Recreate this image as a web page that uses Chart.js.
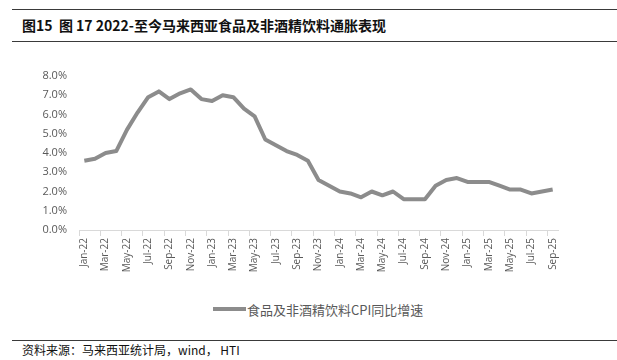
<!DOCTYPE html>
<html>
<head>
<meta charset="utf-8">
<script src="https://cdn.jsdelivr.net/npm/chart.js@4/dist/chart.umd.min.js"></script>
<style>
  html, body { margin: 0; padding: 0; background: #fff; }
  body { width: 617px; height: 360px; position: relative; overflow: hidden; font-family: "Noto Sans CJK SC", "Noto Sans", sans-serif; }
  .rule { position: absolute; left: 12px; right: 0; height: 0; border-top: 1.5px solid #3a3a3a; }
  #title { position: absolute; left: 22px; top: 15px; font-size: 14px; font-weight: bold; color: #111; white-space: nowrap; line-height: 20px; }
  #source { position: absolute; left: 22px; top: 341px; font-size: 12px; color: #111; white-space: nowrap; line-height: 18px; }
  #chartBox { position: absolute; left: 0; top: 50px; width: 617px; height: 228px; }
  #legend { position: absolute; left: 213px; top: 299px; height: 20px; display: flex; align-items: center; font-size: 13px; color: #595959; white-space: nowrap; }
  #legend .swatch { width: 33px; height: 4px; background: #8c8c8c; margin-right: 1px; }
</style>
</head>
<body>
<div class="rule" style="top:9px"></div>
<div id="title">图15&nbsp; 图 17 2022-至今马来西亚食品及非酒精饮料通胀表现</div>
<div class="rule" style="top:41px"></div>
<div id="chartBox"><canvas id="cpiChart"></canvas></div>
<div id="legend"><div class="swatch"></div><span id="legendText"></span></div>
<div class="rule" style="top:340px"></div>
<div id="source">资料来源：马来西亚统计局，wind， HTI</div>

<script>
const months = [
  'Jan-22','Feb-22','Mar-22','Apr-22','May-22','Jun-22','Jul-22','Aug-22','Sep-22','Oct-22','Nov-22','Dec-22',
  'Jan-23','Feb-23','Mar-23','Apr-23','May-23','Jun-23','Jul-23','Aug-23','Sep-23','Oct-23','Nov-23','Dec-23',
  'Jan-24','Feb-24','Mar-24','Apr-24','May-24','Jun-24','Jul-24','Aug-24','Sep-24','Oct-24','Nov-24','Dec-24',
  'Jan-25','Feb-25','Mar-25','Apr-25','May-25','Jun-25','Jul-25','Aug-25','Sep-25'
];
// 食品及非酒精饮料CPI同比增速, %
const foodCpi = [
  3.6, 3.7, 4.0, 4.1, 5.2, 6.1, 6.9, 7.2, 6.8, 7.1, 7.3, 6.8,
  6.7, 7.0, 6.9, 6.3, 5.9, 4.7, 4.4, 4.1, 3.9, 3.6, 2.6, 2.3,
  2.0, 1.9, 1.7, 2.0, 1.8, 2.0, 1.6, 1.6, 1.6, 2.3, 2.6, 2.7,
  2.5, 2.5, 2.5, 2.3, 2.1, 2.1, 1.9, 2.0, 2.1
];
const seriesName = '食品及非酒精饮料CPI同比增速';
const yTicks = [0, 1, 2, 3, 4, 5, 6, 7, 8];

const lineColor = '#8c8c8c';
const tickColor = '#595959';
const axisColor = '#d9d9d9';

document.getElementById('legendText').textContent = seriesName;

const ctx = document.getElementById('cpiChart').getContext('2d');
new Chart(ctx, {
  type: 'line',
  data: {
    labels: months,
    datasets: [{
      label: seriesName,
      data: foodCpi,
      borderColor: lineColor,
      backgroundColor: lineColor,
      borderWidth: 4,
      pointRadius: 0,
      pointHoverRadius: 0,
      tension: 0,
      borderJoinStyle: 'round',
      borderCapStyle: 'butt'
    }]
  },
  options: {
    responsive: true,
    maintainAspectRatio: false,
    animation: false,
    layout: { padding: { left: 0, right: 59, top: 26, bottom: 0 } },
    plugins: {
      legend: { display: false },
      tooltip: { enabled: false }
    },
    scales: {
      x: {
        type: 'category',
        offset: true,
        afterFit: s => { s.height = 48; },
        grid: {
          offset: true,
          drawOnChartArea: false,
          drawTicks: true,
          tickLength: 6,
          color: c => (c.index % 2 === 0 ? axisColor : 'rgba(0,0,0,0)')
        },
        border: { display: true, color: axisColor, width: 1 },
        ticks: {
          autoSkip: false,
          maxRotation: 90,
          minRotation: 90,
          padding: 2,
          color: tickColor,
          font: { family: '"Open Sans", sans-serif', size: 10 },
          callback: (v, i) => (i % 2 === 0 ? months[i] : '')
        }
      },
      y: {
        min: yTicks[0],
        max: yTicks[yTicks.length - 1],
        afterFit: s => { s.width = 79; },
        afterBuildTicks: s => { s.ticks = yTicks.map(v => ({ value: v })); },
        grid: { display: false, drawTicks: false },
        border: { display: false },
        ticks: {
          padding: 12,
          color: tickColor,
          font: { family: '"Open Sans", sans-serif', size: 11 },
          callback: v => Number(v).toFixed(1) + '%'
        }
      }
    }
  }
});
</script>
</body>
</html>
